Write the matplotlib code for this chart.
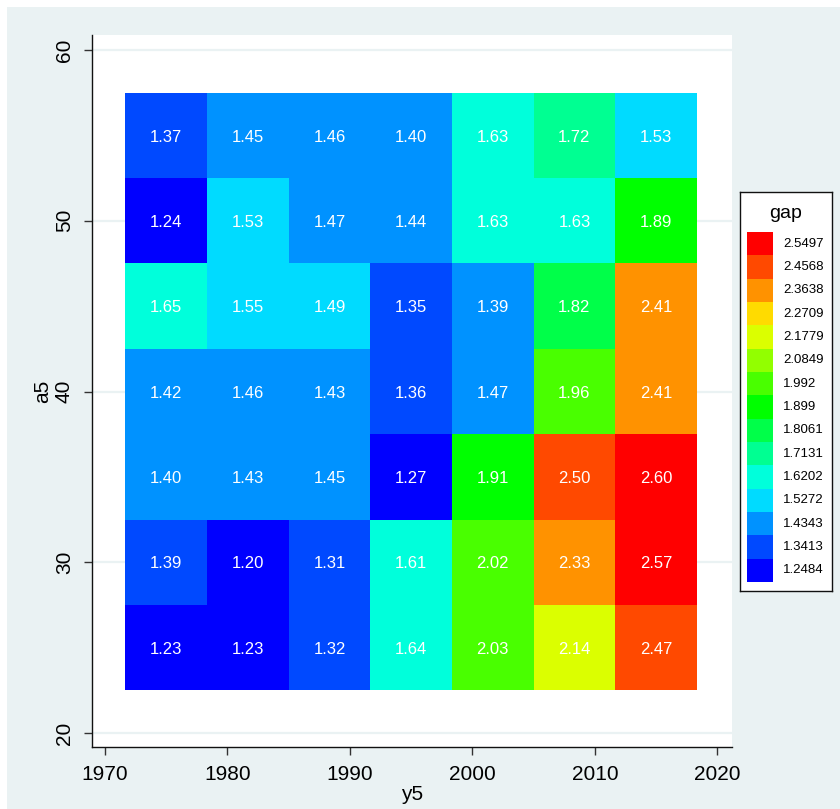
import matplotlib
matplotlib.use("Agg")
import matplotlib.pyplot as plt
from matplotlib.colors import ListedColormap, BoundaryNorm
from matplotlib.patches import Rectangle
import numpy as np

plt.rcParams['font.family'] = ['Liberation Sans', 'DejaVu Sans']

# heatplot data: rows bottom (a5=25) to top (a5=55), columns by y5 bin
y5_centers = [1975, 1981.667, 1988.333, 1995, 2001.667, 2008.333, 2015]
a5_centers = [25, 30, 35, 40, 45, 50, 55]
gap = [
    [1.23, 1.23, 1.32, 1.64, 2.03, 2.14, 2.47],   # a5 = 25
    [1.386, 1.202, 1.31, 1.61, 2.02, 2.33, 2.57],  # a5 = 30
    [1.40, 1.43, 1.45, 1.27, 1.91, 2.50, 2.596],  # a5 = 35
    [1.42, 1.46, 1.43, 1.36, 1.47, 1.96, 2.41],   # a5 = 40
    [1.65, 1.55, 1.49, 1.35, 1.394, 1.82, 2.41],  # a5 = 45
    [1.24, 1.53, 1.47, 1.44, 1.63, 1.63, 1.89],   # a5 = 50
    [1.37, 1.45, 1.46, 1.40, 1.63, 1.72, 1.53],   # a5 = 55
]
legend_labels = ["1.2484", "1.3413", "1.4343", "1.5272", "1.6202", "1.7131",
                 "1.8061", "1.899", "1.992", "2.0849", "2.1779", "2.2709",
                 "2.3638", "2.4568", "2.5497"]
colors = ["#0000FF", "#0049FF", "#0092FF", "#00DBFF", "#00FFDB", "#00FF92",
          "#00FF49", "#00FF00", "#49FF00", "#92FF00", "#DBFF00", "#FFDB00",
          "#FF9200", "#FF4900", "#FF0000"]

bg = "#EAF2F3"
cw = 6.667  # bin widths
ch = 5.0

mids = np.array([float(s) for s in legend_labels])
step = mids[1] - mids[0]
edges = np.concatenate([[mids[0] - step / 2], (mids[1:] + mids[:-1]) / 2, [mids[-1] + step / 2]])
cmap = ListedColormap(colors)
cmap.set_under(colors[0])
cmap.set_over(colors[-1])
norm = BoundaryNorm(edges, cmap.N)

fig = plt.figure(figsize=(8.4, 8.09), dpi=100, facecolor=bg)
# white margin strips on top and left
fig.patches.append(Rectangle((0, 1 - 7 / 809), 1, 7 / 809, transform=fig.transFigure,
                             facecolor="white", edgecolor="none", zorder=-1))
fig.patches.append(Rectangle((0, 0), 7 / 840, 1, transform=fig.transFigure,
                             facecolor="white", edgecolor="none", zorder=-1))
ax = fig.add_axes([92 / 840, 62 / 809, 640 / 840, 712 / 809])
ax.set_facecolor("white")

xe = [c - cw / 2 for c in y5_centers] + [y5_centers[-1] + cw / 2]
ye = [c - ch / 2 for c in a5_centers] + [a5_centers[-1] + ch / 2]
vals = np.array(gap)
ax.pcolormesh(xe, ye, vals, cmap=cmap, norm=norm, zorder=2)
for i, yv in enumerate(a5_centers):
    for j, xv in enumerate(y5_centers):
        ax.text(xv, yv - 0.1, "%.2f" % vals[i][j], color="white", fontsize=12,
                ha="center", va="center", zorder=3)

ax.set_xlim(1968.94, 2021.2)
ax.set_ylim(19.18, 60.88)
ax.set_xticks(range(1970, 2021, 10))
ax.set_yticks(range(20, 61, 10))
ax.yaxis.grid(True, color=bg, linewidth=1.6, zorder=1)
ax.set_axisbelow(True)
for s in ["top", "right"]:
    ax.spines[s].set_visible(False)
for s in ["left", "bottom"]:
    ax.spines[s].set_linewidth(1.0)
    ax.spines[s].set_color("#111111")
ax.tick_params(axis="both", direction="out", length=6, width=1, labelsize=15, color="#333333")
ax.tick_params(axis="x", pad=7)
ax.tick_params(axis="y", pad=7)
for lab in ax.get_yticklabels():
    lab.set_rotation(90)
    lab.set_va("center")
ax.set_xlabel("y5", fontsize=15, labelpad=1)
ax.set_ylabel("a5", fontsize=15, labelpad=2)

# legend box
lax = fig.add_axes([740 / 840, (809 - 591) / 809, 92 / 840, 399 / 809])
lax.set_xlim(0, 92)
lax.set_ylim(399, 0)
lax.set_facecolor("white")
lax.set_xticks([])
lax.set_yticks([])
for s in lax.spines.values():
    s.set_linewidth(1.0)
    s.set_color("#111111")
lax.text(46, 22, "gap", fontsize=14, ha="center", va="center")
rh = 350 / 15
for k in range(len(colors)):
    idx = len(colors) - 1 - k
    y0 = 40 + k * rh
    lax.add_patch(Rectangle((7, y0), 26, rh, facecolor=colors[idx], edgecolor="none"))
    lax.text(43, y0 + rh / 2, legend_labels[idx], fontsize=9.5, ha="left", va="center")

fig.savefig("out.png", dpi=100, facecolor=bg)
